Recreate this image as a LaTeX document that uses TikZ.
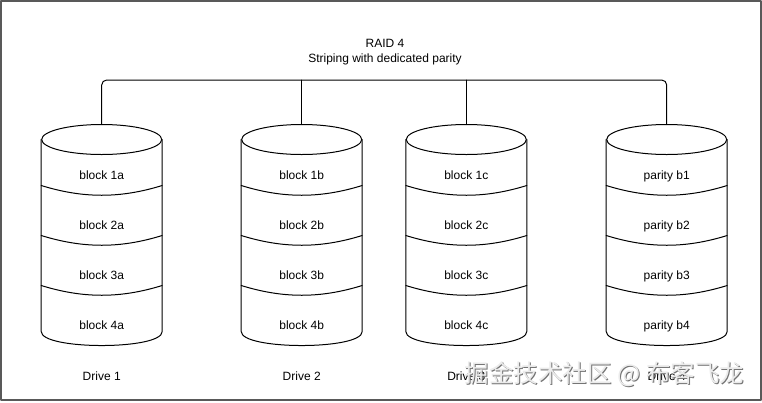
\documentclass[tikz,border=0pt]{standalone}
\usepackage{fontspec}
\setmainfont{Liberation Sans}
\newfontfamily\cjkfont{Noto Sans CJK SC}
\tikzstyle{every node}=[font=\fontsize{12}{15}\selectfont]
\tikzstyle{every path}=[line width=1pt,line cap=round,line join=round]
\tikzstyle{drivebody}=[minimum width=120pt,minimum height=220pt,inner sep=0pt]
\tikzstyle{celltext}=[text height=8.6pt,text depth=0pt,inner sep=0pt]
\tikzstyle{watermark}=[font=\cjkfont\fontsize{24.5}{26}\selectfont,inner sep=0pt]

\begin{document}
\begin{tikzpicture}[x=1pt,y=-1pt]
% RAID 4 with dedicated parity drive
	\newcommand\DiskMid{235} %vertical centre of every drive
	\newcommand\DiskRx{60pt} %half width of a drive
	\newcommand\DiskRy{15pt} %half height of the top ellipse
	\newcommand\DiskStack[7]{% #1 drive name, #2 centre x, #3-#6 segment texts, #7 caption
		\node[drivebody] (#1) at (#2,\DiskMid) {};
		\draw ([yshift=-\DiskRy]#1.north) ellipse [x radius=\DiskRx, y radius=\DiskRy]; %top of the drum
		\draw ([yshift=-\DiskRy]#1.north west) -- ([yshift=14pt]#1.south west) .. controls +(0,18.7) and +(0,18.7) .. ([yshift=14pt]#1.south east) -- ([yshift=-\DiskRy]#1.north east); %sides and bottom
		\foreach \dy in {61,111,161}
			\draw ([yshift=-\dy pt]#1.north west) .. controls +(42,13) and +(-42,13) .. ([yshift=-\dy pt]#1.north east); %segment borders
		\node[celltext] (#1s1) at ([yshift=-51pt]#1.north) {#3};
		\node[celltext] (#1s2) at ([yshift=-101pt]#1.north) {#4};
		\node[celltext] (#1s3) at ([yshift=-151pt]#1.north) {#5};
		\node[celltext] (#1s4) at ([yshift=-201pt]#1.north) {#6};
		\node[celltext] (#1cap) at ([yshift=-31pt]#1.south) {#7}; %drive caption
	}
	\useasboundingbox (0,0) rectangle (762,402);
	\draw [line width=1.5pt, black!65] (1,1) rectangle (761,400); %frame
	%Title
	\node[align=center] (title) at (385,51.7) {RAID 4\\Striping with dedicated parity};
	\coordinate (bus) at (385,80); %bus line height
	%Drives
	\DiskStack{D1}{101.7}{block 1a}{block 2a}{block 3a}{block 4a}{Drive 1}
	\DiskStack{D2}{301.7}{block 1b}{block 2b}{block 3b}{block 4b}{Drive 2}
	\DiskStack{D3}{466.3}{block 1c}{block 2c}{block 3c}{block 4c}{Drive 3}
	\DiskStack{D4}{666.7}{parity b1}{parity b2}{parity b3}{parity b4}{Drive 4}
	%Bus
	\draw [rounded corners=5pt] (D1.north) |- (bus) -| (D4.north);
	\draw (D2.north) -- (D2.north |- bus);
	\draw (D3.north) -- (D3.north |- bus);
	%Watermark
	\node[watermark, text=black!55] (wmshadow) at (605.5,375) {掘金技术社区 @ 布客飞龙};
	\node[watermark, text=black!8] (wm) at (604.5,374) {掘金技术社区 @ 布客飞龙};
\end{tikzpicture}
\end{document}
